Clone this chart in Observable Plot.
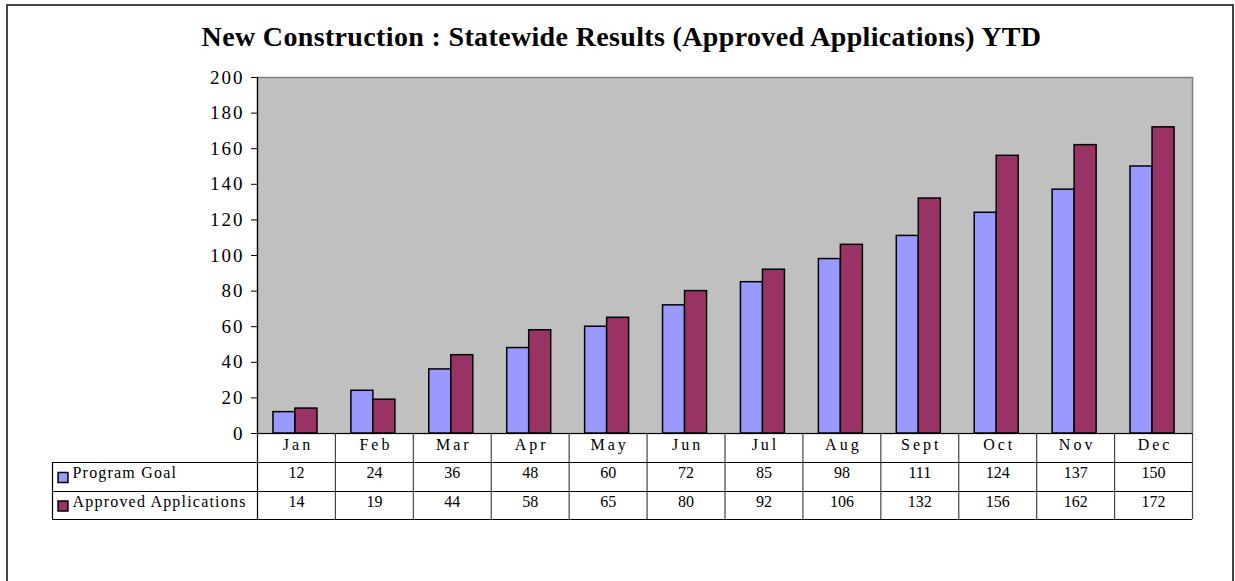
<!DOCTYPE html>
<html>
<head>
<meta charset="utf-8">
<script src="https://cdn.jsdelivr.net/npm/d3@7"></script>
<script src="https://cdn.jsdelivr.net/npm/@observablehq/plot@0.6"></script>
<style>
  html, body { margin: 0; padding: 0; background: #fff; overflow: hidden; }
  #wrap { position: relative; width: 1235px; height: 581px; font-family: "Liberation Serif", "Times New Roman", serif; }
  #border { position: absolute; left: 6px; top: 4px; width: 1228px; height: 600px; border: 2px solid #444; box-sizing: border-box; }
  #title { position: absolute; left: 4px; top: 23px; width: 1235px; line-height: 28px; text-align: center; font-weight: bold; font-size: 28px; letter-spacing: 0.35px; color: #000; }
  #chart { position: absolute; left: 0; top: 0; }
</style>
</head>
<body>
<div id="wrap">
  <div id="border"></div>
  <div id="title">New Construction : Statewide Results (Approved Applications) YTD</div>
  <div id="chart"></div>
</div>
<script>
const months = ["Jan", "Feb", "Mar", "Apr", "May", "Jun", "Jul", "Aug", "Sept", "Oct", "Nov", "Dec"];
const programGoal = [12, 24, 36, 48, 60, 72, 85, 98, 111, 124, 137, 150];
const approvedApplications = [14, 19, 44, 58, 65, 80, 92, 106, 132, 156, 162, 172];
const seriesNames = ["Program Goal", "Approved Applications"];
const seriesColors = ["#9999FF", "#993366"];
const yTicks = [0, 20, 40, 60, 80, 100, 120, 140, 160, 180, 200];

const goalRows = months.map((m, i) => ({month: m, value: programGoal[i]}));
const apprRows = months.map((m, i) => ({month: m, value: approvedApplications[i]}));

const W = 1235, H = 581;
const mL = 257, mR = 43, mT = 77, mB = 148;
const plotW = W - mL - mR;
const plotH = H - mT - mB;
const step = plotW / months.length;
const barW = 22;
const gap = (step - 2 * barW) / 2 - 1;
const rowH = [29, 58, 86];
const legendW = 205;

const cellFont = {fontFamily: "Liberation Serif", fontSize: 16, fill: "#000"};

const chart = Plot.plot({
  width: W,
  height: H,
  marginLeft: mL,
  marginRight: mR,
  marginTop: mT,
  marginBottom: mB,
  style: {fontFamily: "Liberation Serif", fontSize: "19px", color: "#000", background: "transparent", overflow: "visible"},
  x: {domain: months, padding: 0, round: false, axis: null},
  y: {domain: [0, 200], ticks: yTicks, tickSize: 6, tickPadding: 7, label: null},
  marks: [
    Plot.frame({fill: "#C0C0C0", stroke: "#808080", strokeWidth: 1.5}),
    Plot.barY(goalRows, {x: "month", y: "value", fill: seriesColors[0], stroke: "#000", strokeWidth: 1.5, insetLeft: gap, insetRight: step - gap - barW}),
    Plot.barY(apprRows, {x: "month", y: "value", fill: seriesColors[1], stroke: "#000", strokeWidth: 1.5, insetLeft: gap + barW, insetRight: step - gap - 2 * barW}),
    // y axis line (continues through the table)
    Plot.ruleX([months[0]], {x: d => d, dx: -step / 2, stroke: "#000", strokeWidth: 1.2, insetBottom: -rowH[2]}),
    // baseline
    Plot.ruleY([0], {stroke: "#000", strokeWidth: 1.2}),
    // table vertical separators
    Plot.ruleX(months.slice(1), {x: d => d, dx: -step / 2, stroke: "#444", strokeWidth: 1.2, insetTop: plotH, insetBottom: -rowH[2]}),
    Plot.ruleX([months[months.length - 1]], {x: d => d, dx: step / 2, stroke: "#444", strokeWidth: 1.2, insetTop: plotH, insetBottom: -rowH[2]}),
    // left legend column edge
    Plot.ruleX([months[0]], {x: d => d, dx: -step / 2 - legendW, stroke: "#000", strokeWidth: 1.2, insetTop: plotH + rowH[0], insetBottom: -rowH[2]}),
    // table horizontal lines
    Plot.ruleY([0], {dy: rowH[0], stroke: "#000", strokeWidth: 1.2, insetLeft: -legendW}),
    Plot.ruleY([0], {dy: rowH[1], stroke: "#000", strokeWidth: 1.2, insetLeft: -legendW}),
    Plot.ruleY([0], {dy: rowH[2], stroke: "#000", strokeWidth: 1.2, insetLeft: -legendW}),
    // header row: months
    Plot.text(months, {x: d => d, text: d => d, frameAnchor: "bottom", dy: 16, dx: 1.5, ...cellFont}),
    // value rows
    Plot.text(goalRows, {x: "month", text: d => String(d.value), frameAnchor: "bottom", dy: 44.5, ...cellFont}),
    Plot.text(apprRows, {x: "month", text: d => String(d.value), frameAnchor: "bottom", dy: 73, ...cellFont}),
    // legend swatches and labels
    Plot.dot([seriesNames[0]], {frameAnchor: "bottom-left", dx: -194.5, dy: 44, symbol: "square", r: 5.6, fill: seriesColors[0], stroke: "#000", strokeWidth: 1.5}),
    Plot.dot([seriesNames[1]], {frameAnchor: "bottom-left", dx: -194.5, dy: 72.5, symbol: "square", r: 5.6, fill: seriesColors[1], stroke: "#000", strokeWidth: 1.5}),
    Plot.text([seriesNames[0]], {frameAnchor: "bottom-left", text: d => d, textAnchor: "start", dx: -185, dy: 44.5, ...cellFont}),
    Plot.text([seriesNames[1]], {frameAnchor: "bottom-left", text: d => d, textAnchor: "start", dx: -185, dy: 73, ...cellFont})
  ]
});
// letter spacing to imitate the stretched spreadsheet typography
d3.select(chart).selectAll("text").each(function () {
  const t = this.textContent;
  const g = this.closest("g");
  const anchor = g ? g.getAttribute("text-anchor") : null;
  if (months.includes(t)) this.style.letterSpacing = "3px";
  else if (seriesNames.includes(t)) this.style.letterSpacing = "1.2px";
  else if (anchor === "end") this.style.letterSpacing = "2px";
});
document.getElementById("chart").appendChild(chart);
</script>
</body>
</html>
